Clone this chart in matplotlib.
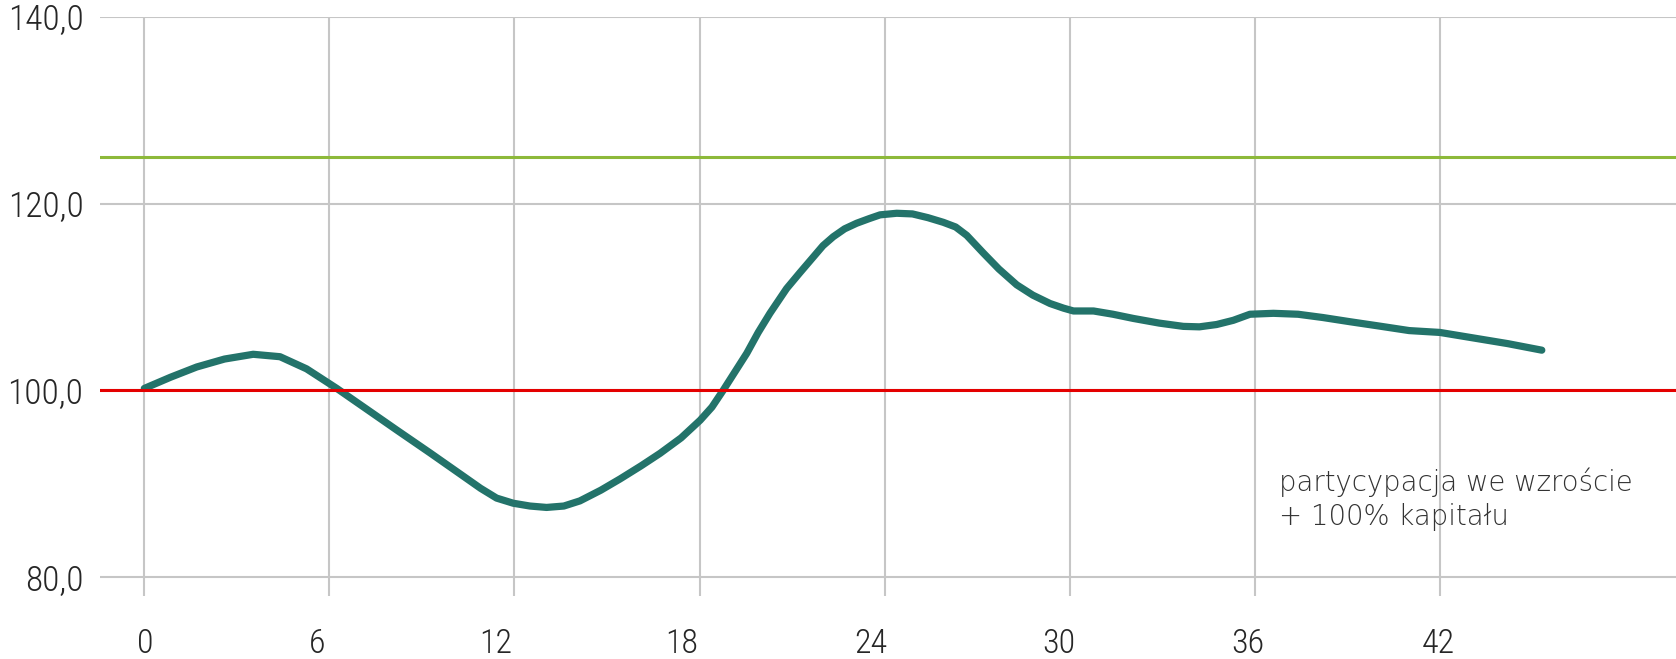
import matplotlib
matplotlib.use("Agg")
import matplotlib.pyplot as plt
import matplotlib.transforms as mtransforms
from matplotlib import font_manager as fm

# ---- data ----
months = [0, 0.85, 1.70, 2.6, 3.53, 4.40, 5.26, 6.24, 7.2, 8.18, 9.26, 10.34, 10.9,
          11.42, 11.96, 12.5, 13.04, 13.6, 14.12, 14.8, 15.42, 16.1, 16.72,
          17.4, 18.02, 18.4, 18.77, 19.15, 19.53, 19.9, 20.28, 20.82, 21.25,
          21.69, 22.0, 22.33, 22.7, 23.09, 23.5, 23.85, 24.39, 24.9, 25.4,
          25.9, 26.3, 26.66, 27.2, 27.7, 28.28, 28.8, 29.36, 29.8, 30.12,
          30.77, 31.4, 32.06, 32.9, 33.68, 34.2, 34.76, 35.3, 35.84, 36.6,
          37.4, 38.2, 39.08, 40.0, 41.0, 42.0, 43.1, 44.2, 45.3]
values = [100.2, 101.4, 102.5, 103.35, 103.86, 103.6, 102.3, 100.2, 98.0, 95.75, 93.3,
          90.8, 89.5, 88.45, 87.9, 87.6, 87.45, 87.6, 88.15, 89.3, 90.5,
          91.9, 93.25, 94.9, 96.8, 98.2, 100.03, 102.0, 103.97, 106.2, 108.25,
          110.9, 112.6, 114.3, 115.5, 116.45, 117.3, 117.9, 118.4, 118.8, 118.97,
          118.9, 118.5, 118.0, 117.5, 116.6, 114.7, 113.0, 111.3, 110.2, 109.3,
          108.8, 108.5, 108.5, 108.15, 107.7, 107.2, 106.85, 106.8, 107.05, 107.5,
          108.15, 108.25, 108.15, 107.8, 107.35, 106.9, 106.4, 106.2, 105.6, 105.0,
          104.3]
x_ticks = [0, 6, 12, 18, 24, 30, 36, 42]
x_tick_labels = ["0", "6", "12", "18", "24", "30", "36", "42"]
y_ticks = [80, 100, 120, 140]
y_tick_labels = ["80,0", "100,0", "120,0", "140,0"]
base_level = 100
upper_level = 125
note_lines = ["partycypacja we wzroście", "+ 100% kapitału"]

# ---- style ----
label_x_offsets_px = [1, -12, -19, -17.5, -14, -11, -7, -2]
TEAL = "#23736A"
RED = "#E40000"
GREEN = "#8DB93A"
GRID = "#C6C6C6"
TXT = "#262626"

names = {f.name for f in fm.fontManager.ttflist}
tick_family = None
tick_weight = "light"
for cand in ["Roboto Condensed", "Liberation Sans Narrow", "Roboto"]:
    if cand in names:
        tick_family = cand
        break
if tick_family == "Liberation Sans Narrow":
    tick_weight = "normal"
if tick_family is None:
    tick_family = "DejaVu Sans"

dejavu_light = any(f.name == "DejaVu Sans" and f.weight in (200, "extra light", "light", 300)
                   for f in fm.fontManager.ttflist)
if dejavu_light:
    note_family, note_weight, note_size = "DejaVu Sans", 200, 19.8
else:
    note_family, note_weight, note_size = "Open Sans", "light", 20.5

W, H, DPI = 1676, 659, 100
fig = plt.figure(figsize=(W / DPI, H / DPI), dpi=DPI)
ax = fig.add_axes([100 / W, 1 - 596 / H, 1 - 100 / W, (596 - 17) / H])

ax.set_xlim(-1.436, 49.65)
ax.set_ylim(77.96, 140)

for s in ax.spines.values():
    s.set_visible(False)

ax.set_xticks(x_ticks)
ax.set_xticklabels(x_tick_labels)
ax.set_yticks(y_ticks)
ax.set_yticklabels(y_tick_labels)
ax.tick_params(axis="both", length=0, colors=TXT)
ax.tick_params(axis="x", pad=23, labelsize=24.5)
ax.tick_params(axis="y", pad=12, labelsize=25.5)
for lab in ax.get_xticklabels() + ax.get_yticklabels():
    lab.set_fontfamily(tick_family)
    lab.set_fontweight(tick_weight)

for lab, dx in zip(ax.get_xticklabels(), label_x_offsets_px):
    lab.set_transform(lab.get_transform() +
                      mtransforms.ScaledTranslation(dx / DPI, 0, fig.dpi_scale_trans))

ax.grid(True, color=GRID, linewidth=1.5, zorder=0)
ax.set_axisbelow(True)

ax.axhline(upper_level, color=GREEN, linewidth=2.2, zorder=2)
ax.plot(months, values, color=TEAL, linewidth=5.2, solid_capstyle="round",
        solid_joinstyle="round", zorder=3)
ax.axhline(base_level, color=RED, linewidth=2.2, zorder=4)

ax.text(36.79, 89.21, note_lines[0], fontsize=note_size, family=note_family,
        fontweight=note_weight, color="#333333", va="baseline", ha="left", zorder=5)
ax.text(36.79, 85.57, note_lines[1], fontsize=note_size, family=note_family,
        fontweight=note_weight, color="#333333", va="baseline", ha="left", zorder=5)

fig.savefig("out.png", dpi=DPI)
